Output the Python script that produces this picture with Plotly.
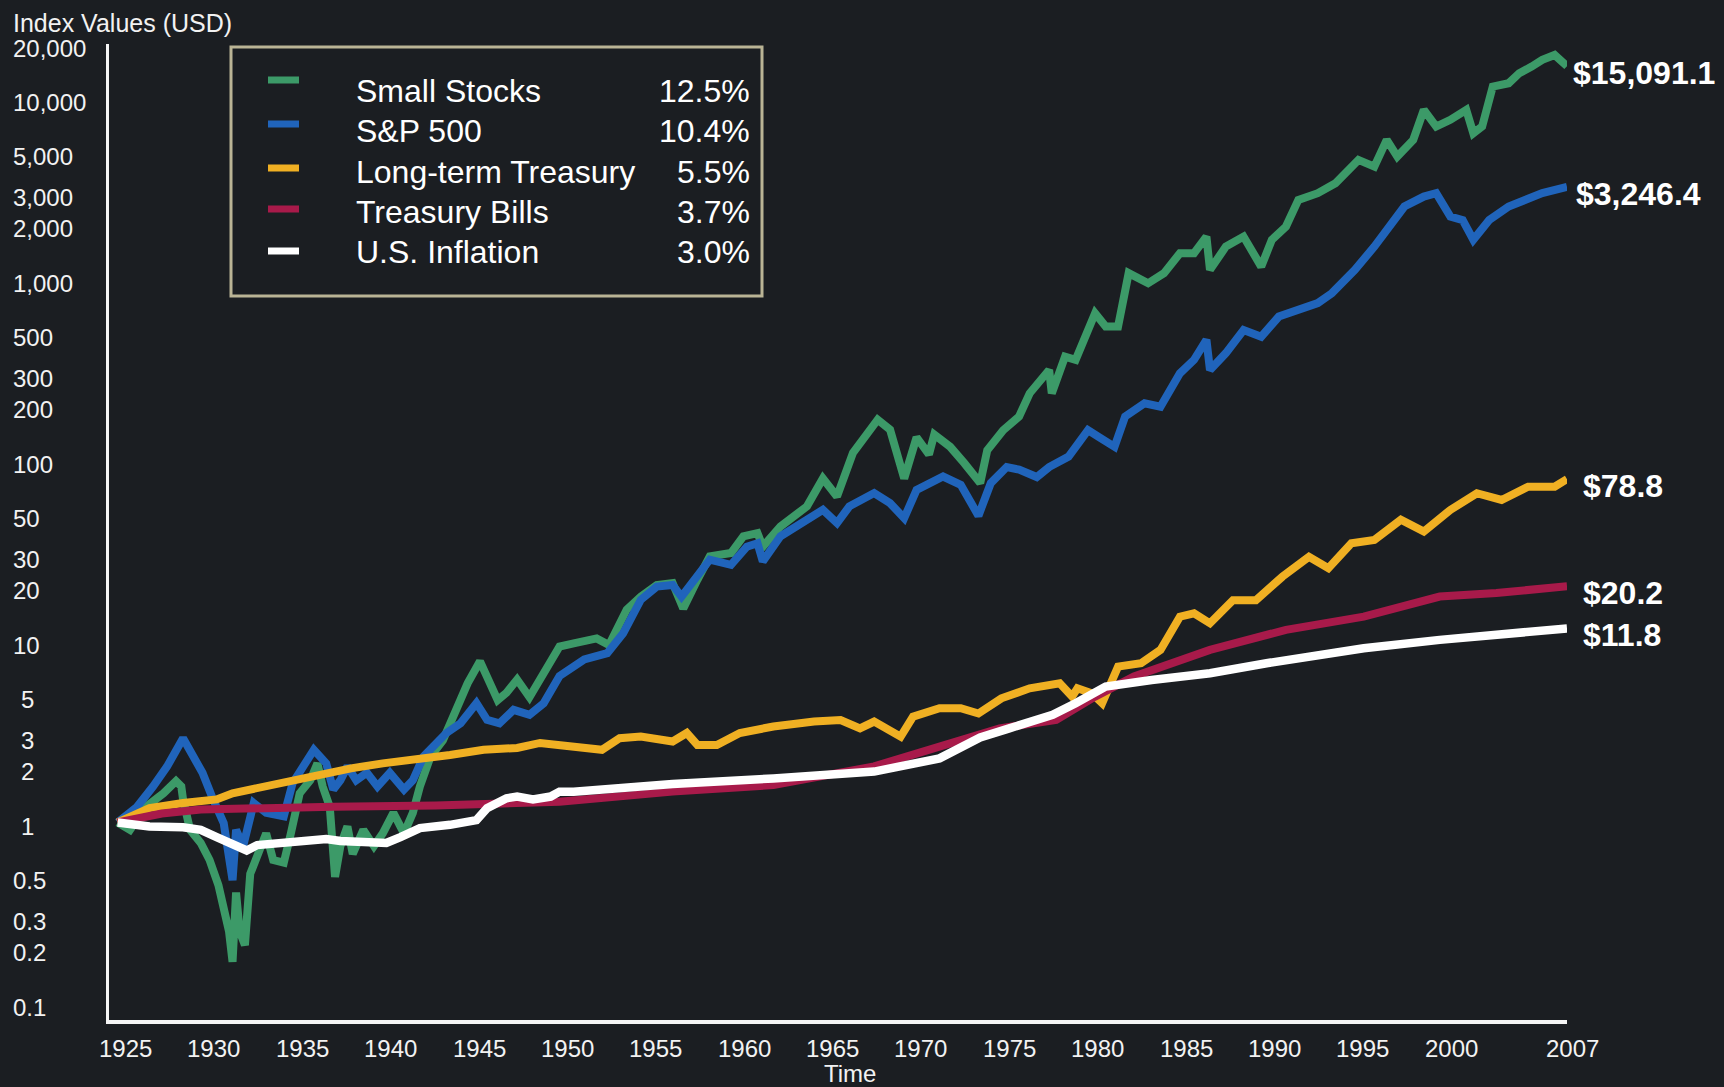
import math
import plotly.graph_objects as go

# ---------------- data (growth of $1) ----------------
small_years = [1925.0, 1925.7, 1926.6, 1927.6, 1928.3, 1928.6, 1928.7, 1929.1, 1929.7, 1930.2,
               1930.7, 1931.0, 1931.3, 1931.5, 1931.7, 1931.9, 1932.2, 1932.5, 1932.8, 1933.4,
               1933.8, 1934.4, 1934.8, 1935.3, 1935.9, 1936.3, 1936.6, 1937.0, 1937.3, 1937.6,
               1938.0, 1938.3, 1938.9, 1939.5, 1940.0, 1940.6, 1941.2, 1941.7, 1942.1, 1942.7,
               1943.4, 1944.0, 1944.8, 1945.5, 1945.9, 1946.5, 1947.0, 1947.6, 1948.3, 1949.0,
               1950.0, 1950.8, 1952.1, 1952.8, 1953.8, 1954.6, 1955.5, 1956.4, 1957.0, 1957.8,
               1958.5, 1959.7, 1960.4, 1961.2, 1961.5, 1962.5, 1964.0, 1964.9, 1965.7, 1966.6,
               1968.0, 1968.7, 1969.5, 1970.2, 1970.9, 1971.2, 1972.1, 1972.9, 1973.8, 1974.2,
               1975.1, 1976.0, 1976.6, 1977.7, 1977.85, 1978.6, 1979.2, 1980.3, 1980.9, 1981.6,
               1982.2, 1983.3, 1984.2, 1985.1, 1985.9, 1986.6, 1986.8, 1987.7, 1988.7, 1989.7,
               1990.3, 1991.1, 1991.8, 1992.9, 1993.9, 1995.2, 1996.1, 1996.8, 1997.4, 1998.3,
               1998.9, 1999.6, 2000.4, 2001.3, 2001.7, 2002.2, 2002.8, 2003.7, 2004.3, 2005.0,
               2005.6, 2006.3, 2007.0]
small_values = [1.0, 0.91, 1.22, 1.45, 1.69, 1.58, 1.34, 0.91, 0.77, 0.62,
                0.45, 0.34, 0.25, 0.17, 0.41, 0.25, 0.21, 0.52, 0.62, 0.87,
                0.62, 0.60, 0.87, 1.45, 1.71, 2.12, 1.58, 1.22, 0.50, 0.74,
                0.95, 0.67, 0.91, 0.74, 0.87, 1.13, 0.87, 1.13, 1.58, 2.31,
                2.84, 3.84, 5.87, 7.77, 6.44, 4.74, 5.21, 6.16, 4.92, 6.44,
                9.38, 9.75, 10.4, 9.56, 15.0, 17.7, 20.5, 21.0, 15.2, 21.9,
                29.5, 30.8, 38.1, 39.7, 33.4, 43.2, 55.8, 79.5, 63.3, 110,
                168, 148, 79.5, 134, 108, 139, 119, 96.6, 75, 114,
                147, 175, 235, 316, 235, 375, 360, 651, 550, 550,
                1084, 953, 1084, 1397, 1397, 1726, 1130, 1520, 1726, 1178,
                1655, 1961, 2751, 2998, 3404, 4578, 4204, 5904, 4777, 5904,
                8650, 6998, 7622, 8650, 6427, 7000, 11640, 12140, 13800, 15000,
                16340, 17400, 15091.1]

sp_years = [1925.0, 1926.1, 1927.0, 1927.8, 1928.7, 1929.3, 1929.8, 1930.4, 1931.0, 1931.5,
            1931.7, 1932.1, 1932.7, 1933.4, 1934.4, 1934.9, 1936.1, 1936.8, 1937.2, 1937.6,
            1938.0, 1938.5, 1939.1, 1939.7, 1940.4, 1941.2, 1941.7, 1942.3, 1942.9, 1943.6,
            1944.4, 1945.3, 1945.9, 1946.6, 1947.4, 1948.3, 1949.1, 1950.0, 1951.4, 1952.7,
            1953.6, 1954.6, 1955.5, 1956.4, 1956.9, 1957.8, 1958.5, 1959.7, 1960.6, 1961.2,
            1961.5, 1962.5, 1964.0, 1964.9, 1965.7, 1966.4, 1967.8, 1968.7, 1969.5, 1970.2,
            1971.7, 1972.7, 1973.7, 1974.4, 1975.3, 1976.0, 1977.0, 1977.7, 1978.8, 1979.9,
            1980.5, 1981.4, 1982.0, 1983.1, 1984.0, 1985.1, 1985.9, 1986.6, 1986.8, 1987.7,
            1988.7, 1989.7, 1990.7, 1992.9, 1993.7, 1995.0, 1996.1, 1996.9, 1997.8, 1998.9,
            1999.6, 2000.4, 2001.1, 2001.7, 2002.6, 2003.7, 2004.8, 2005.6, 2007.0]
sp_values = [1.0, 1.22, 1.58, 2.04, 2.92, 2.31, 1.88, 1.34, 0.99, 0.48,
             0.91, 0.74, 1.28, 1.13, 1.08, 1.65, 2.52, 2.12, 1.52, 1.71,
             2.04, 1.71, 1.88, 1.58, 1.88, 1.52, 1.71, 2.31, 2.62, 3.12,
             3.53, 4.56, 3.69, 3.53, 4.19, 3.93, 4.55, 6.44, 7.95, 8.62,
             11.1, 17.0, 20.1, 20.5, 17.7, 22.8, 28.3, 26.5, 33.4, 34.9,
             27.7, 38.1, 47.1, 53.4, 45.1, 55.8, 66.1, 58.1, 48.0, 68.8,
             81.5, 73.4, 49.5, 75, 92, 89, 81, 92, 105, 147,
             135, 119, 175, 207, 198, 303, 360, 464, 316, 392,
             526, 483, 624, 740, 840, 1130, 1520, 1960, 2530, 2870,
             3000, 2223, 2130, 1655, 2130, 2530, 2750, 3000, 3246.4]

lt_years = [1925.0, 1926.8, 1928.7, 1930.6, 1931.5, 1932.5, 1934.4, 1936.3, 1938.2, 1940.0,
            1941.9, 1943.8, 1945.7, 1947.6, 1948.9, 1950.8, 1952.4, 1953.4, 1954.6, 1956.4,
            1957.2, 1957.8, 1958.9, 1960.2, 1962.1, 1964.4, 1965.9, 1967.0, 1967.8, 1969.3,
            1970.0, 1971.5, 1972.7, 1973.7, 1975.0, 1976.6, 1978.3, 1979.0, 1979.3, 1980.1,
            1980.7, 1981.6, 1982.9, 1984.0, 1985.1, 1985.9, 1986.8, 1988.1, 1989.4, 1990.9,
            1992.4, 1993.5, 1994.8, 1996.1, 1997.6, 1998.9, 2000.4, 2001.9, 2003.3, 2004.8,
            2006.3, 2007.0]
lt_values = [1.0, 1.20, 1.28, 1.34, 1.45, 1.52, 1.69, 1.83, 1.99, 2.12,
             2.22, 2.36, 2.52, 2.58, 2.75, 2.62, 2.52, 2.92, 2.98, 2.80,
             3.12, 2.68, 2.68, 3.12, 3.39, 3.61, 3.68, 3.31, 3.61, 2.98,
             3.84, 4.28, 4.28, 4.0, 4.85, 5.51, 5.87, 4.96, 5.51, 5.18,
             4.56, 7.26, 7.58, 8.98, 13.7, 14.3, 12.6, 16.9, 16.9, 22.8,
             29.4, 25.4, 34.9, 36.4, 47, 40.5, 53.3, 65.9, 60.5, 71.6,
             71.6, 78.8]

bill_years = [1925.0, 1927.5, 1929.7, 1933.0, 1937.2, 1943.0, 1950.0, 1956.4, 1962.1, 1967.8,
              1971.5, 1973.8, 1974.9, 1978.1, 1980.3, 1982.5, 1984.6, 1986.8, 1991.1, 1995.5,
              1999.8, 2003.0, 2007.0]
bill_values = [1.0, 1.12, 1.18, 1.21, 1.22, 1.24, 1.30, 1.48, 1.61, 2.04,
               2.62, 3.05, 3.31, 3.68, 4.96, 6.4, 7.58, 8.98, 11.6, 13.7,
               17.7, 18.5, 20.2]

infl_years = [1925.0, 1926.8, 1928.7, 1929.7, 1930.6, 1932.3, 1932.9, 1935.3, 1936.8, 1937.6,
              1940.2, 1941.0, 1942.1, 1943.8, 1945.3, 1945.9, 1947.0, 1947.6, 1948.5, 1949.5,
              1950.0, 1950.8, 1956.4, 1962.1, 1967.8, 1971.5, 1973.8, 1975.4, 1977.9, 1979.2,
              1980.9, 1983.5, 1986.8, 1990.0, 1995.5, 1999.8, 2003.0, 2007.0]
infl_values = [1.0, 0.95, 0.94, 0.91, 0.83, 0.70, 0.75, 0.79, 0.81, 0.79,
               0.77, 0.83, 0.93, 0.97, 1.03, 1.20, 1.36, 1.39, 1.34, 1.39,
               1.48, 1.48, 1.63, 1.75, 1.91, 2.26, 2.95, 3.3, 3.93, 4.56,
               5.63, 6.13, 6.67, 7.58, 9.17, 10.2, 10.9, 11.8]

series_names = ["Small Stocks", "S&P 500", "Long-term Treasury", "Treasury Bills", "U.S. Inflation"]
series_returns = ["12.5%", "10.4%", "5.5%", "3.7%", "3.0%"]

x_tick_years = [1925, 1930, 1935, 1940, 1945, 1950, 1955, 1960, 1965, 1970, 1975,
                1980, 1985, 1990, 1995, 2000, 2007]
y_tick_values = [20000, 10000, 5000, 3000, 2000, 1000, 500, 300, 200, 100, 50, 30, 20,
                 10, 5, 3, 2, 1, 0.5, 0.3, 0.2, 0.1]

# ---------------- styling ----------------
colors = ["#3c9a68", "#2064bb", "#f0b023", "#a81a4a", "#ffffff"]
widths = [8, 8, 8, 8, 8.5]
BG = "#1b1e22"
FONT = "Liberation Sans, Arial, Helvetica, sans-serif"
FIG_W, FIG_H = 1724, 1087
L, T, R, B = 109, 44, 157, 67
W, H = FIG_W - L - R, FIG_H - T - B
X_MIN, X_MAX = 1924.51, 2007.0


def px_x(px):
    return (px - L) / W


def px_y(py):
    return (T + H - py) / H


series = [(small_years, small_values), (sp_years, sp_values), (lt_years, lt_values),
          (bill_years, bill_values), (infl_years, infl_values)]
for (xs, ys) in series:
    assert len(xs) == len(ys)

fig = go.Figure()
for (xs, ys), name, col, w in zip(series, series_names, colors, widths):
    fig.add_trace(go.Scatter(x=xs, y=ys, mode="lines", name=name, showlegend=False,
                             line=dict(color=col, width=w), hoverinfo="skip"))

annotations = []
# y tick labels
for v in y_tick_values:
    txt = f"{v:,}" if isinstance(v, int) else str(v)
    xpix = 19 if len(txt) == 1 else 10.5
    annotations.append(dict(x=px_x(xpix), xref="paper", xanchor="left",
                            y=math.log10(v), yref="y", yanchor="middle", yshift=-4,
                            text=txt, showarrow=False,
                            font=dict(family=FONT, size=24, color="#f2f2f2")))
# x tick labels (label centres sit about half a year right of the year mark)
px_per_year = W / (X_MAX - X_MIN)
for yr in x_tick_years:
    pos = yr + 0.45
    shift = 0
    if pos > X_MAX:
        shift = (pos - X_MAX) * px_per_year - 2
        pos = X_MAX
    annotations.append(dict(x=pos, xref="x", xanchor="center", xshift=shift,
                            y=px_y(1048), yref="paper", yanchor="middle",
                            text=str(yr), showarrow=False,
                            font=dict(family=FONT, size=24, color="#f2f2f2")))
# axis titles
annotations.append(dict(x=px_x(10.5), xref="paper", xanchor="left", y=px_y(23), yref="paper",
                        yanchor="middle", text="Index Values (USD)", showarrow=False,
                        font=dict(family=FONT, size=25, color="#f2f2f2")))
annotations.append(dict(x=px_x(850), xref="paper", xanchor="center", y=px_y(1073), yref="paper",
                        yanchor="middle", text="Time", showarrow=False,
                        font=dict(family=FONT, size=24, color="#f2f2f2")))
# end-value labels
end_xshift = [4, 7, 14, 14, 14]
for (xs, ys), dx in zip(series, end_xshift):
    annotations.append(dict(x=xs[-1], xref="x", xanchor="left", xshift=dx,
                            y=math.log10(ys[-1]), yref="y", yanchor="middle", yshift=-7,
                            text=f"<b>${ys[-1]:,.1f}</b>", showarrow=False,
                            font=dict(family=FONT, size=32, color="#ffffff")))

# custom legend
shapes = [dict(type="rect", xref="paper", yref="paper",
               x0=px_x(231), x1=px_x(762), y0=px_y(296), y1=px_y(47),
               line=dict(color="#bab495", width=3), fillcolor="rgba(0,0,0,0)", layer="above")]
swatch_y = [80, 124, 168, 209, 251]
text_y = [91, 131, 171.5, 212, 252.5]
for i in range(len(series_names)):
    shapes.append(dict(type="line", xref="paper", yref="paper",
                       x0=px_x(268), x1=px_x(299), y0=px_y(swatch_y[i]), y1=px_y(swatch_y[i]),
                       line=dict(color=colors[i], width=7), layer="above"))
    annotations.append(dict(x=px_x(354), xref="paper", xanchor="left",
                            y=px_y(text_y[i]), yref="paper", yanchor="middle",
                            text=series_names[i], showarrow=False,
                            font=dict(family=FONT, size=32, color="#ffffff")))
    annotations.append(dict(x=px_x(752), xref="paper", xanchor="right",
                            y=px_y(text_y[i]), yref="paper", yanchor="middle",
                            text=series_returns[i], showarrow=False,
                            font=dict(family=FONT, size=32, color="#ffffff")))

fig.update_layout(
    width=FIG_W, height=FIG_H,
    margin=dict(l=L, r=R, t=T, b=B, pad=0),
    paper_bgcolor=BG, plot_bgcolor=BG,
    font=dict(family=FONT, color="#ffffff"),
    xaxis=dict(range=[X_MIN, X_MAX], showgrid=False, zeroline=False,
               showline=True, linecolor="#f5f5f5", linewidth=4,
               showticklabels=False, ticks=""),
    yaxis=dict(type="log", range=[math.log10(0.081), math.log10(20000)],
               showgrid=False, zeroline=False, showline=True,
               linecolor="#f5f5f5", linewidth=3, showticklabels=False, ticks=""),
    annotations=annotations,
    shapes=shapes,
    showlegend=False,
)

fig.write_html(
    "out.html",
    config={"displayModeBar": False},
    post_script="document.body.style.margin='0';document.body.style.padding='0';"
                "document.body.style.background='" + BG + "';"
                "document.body.style.overflow='hidden';",
)
